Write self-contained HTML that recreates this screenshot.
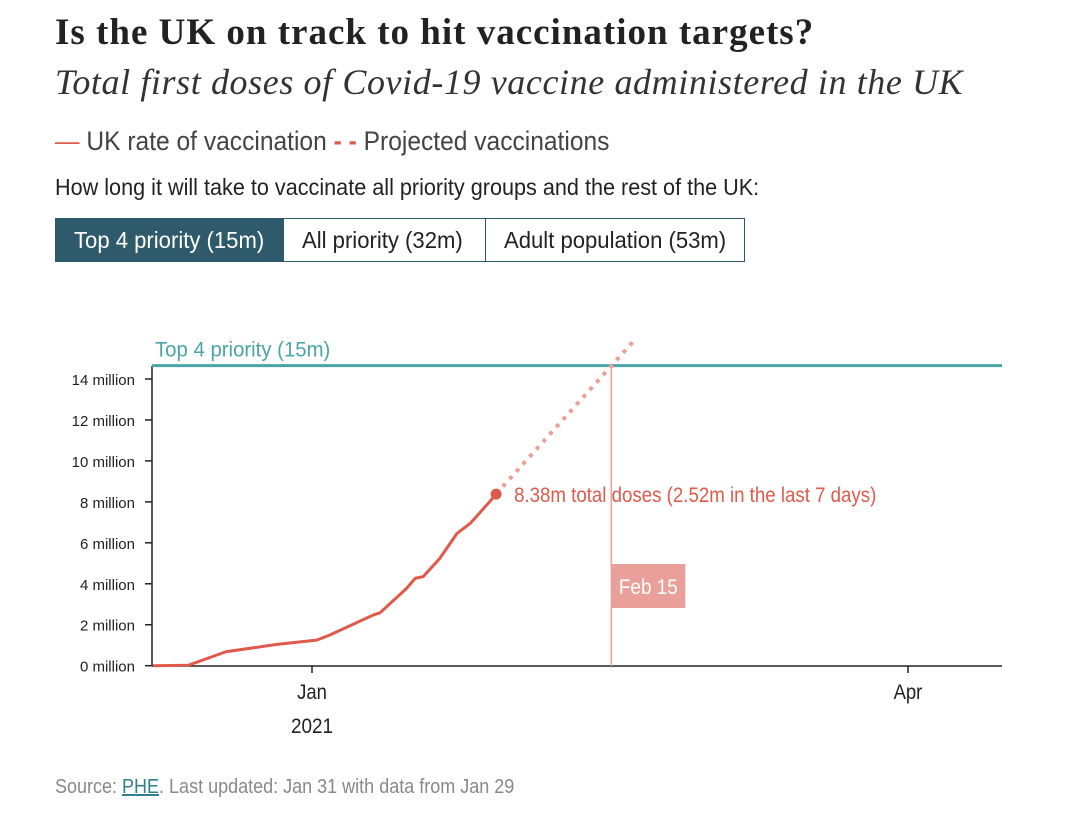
<!DOCTYPE html>
<html><head><meta charset="utf-8">
<style>
body{margin:0;width:1080px;height:828px;background:#fff;overflow:hidden;position:relative;font-family:"Liberation Sans",sans-serif;color:#222}
.abs{position:absolute;white-space:nowrap}
.cond{display:inline-block;transform-origin:0 0}
.btn{position:absolute;top:218px;height:44px;border:1.5px solid #2e5a6b;box-sizing:border-box;font-size:23px;line-height:42px;overflow:hidden}
</style></head><body>
<div class="abs" style="left:55px;top:11px;font-family:'Liberation Serif',serif;font-weight:bold;font-size:37px;letter-spacing:1px;color:#222">Is the UK on track to hit vaccination targets?</div>
<div class="abs" style="left:55px;top:61px;font-family:'Liberation Serif',serif;font-style:italic;font-size:36px;letter-spacing:0.6px;color:#333">Total first doses of Covid-19 vaccine administered in the UK</div>
<div class="abs" style="left:55px;top:126px;font-size:27px;color:#444"><span class="cond" style="transform:scaleX(0.91)"><span><span style="color:#e05a4b">—</span> UK rate of vaccination</span> <span><span style="color:#e05a4b;font-weight:bold">- -</span> Projected vaccinations</span></span></div>
<div class="abs" style="left:55px;top:174px;font-size:23px;color:#222"><span class="cond" style="transform:scaleX(0.94)">How long it will take to vaccinate all priority groups and the rest of the UK:</span></div>
<div class="btn" style="left:55px;width:229px;background:#2e5a6b;color:#fff;padding-left:18px"><span class="cond" style="transform:scaleX(0.96)">Top 4 priority (15m)</span></div>
<div class="btn" style="left:283px;width:203px;background:#fff;color:#222;padding-left:18px"><span class="cond" style="transform:scaleX(0.96)">All priority (32m)</span></div>
<div class="btn" style="left:485px;width:260px;background:#fff;color:#222;padding-left:18px"><span class="cond" style="transform:scaleX(0.96)">Adult population (53m)</span></div>
<svg id="chart" width="1080" height="828" style="position:absolute;left:0;top:0"></svg>
<div class="abs" style="left:55px;top:776px;font-size:20px;color:#888"><span class="cond" style="transform:scaleX(0.9)">Source: <span style="color:#2f7f8f;text-decoration:underline">PHE</span>. Last updated: Jan 31 with data from Jan 29</span></div>
<script>
// days relative to Jan 1 2021, values in millions
const days=[-24,-18.7,-13,-5.3,0.7,2.7,9.3,10.3,14.3,15.6,16.8,19.3,21.9,23.9,26.4,27.8];
const doses=[0,0.02,0.68,1.04,1.25,1.5,2.48,2.59,3.78,4.27,4.35,5.24,6.46,6.95,7.85,8.38];
const projDays=[27.8,48.7];
const projVals=[8.38,15.9];
const yTicks=[0,2,4,6,8,10,12,14];
const xTickDays=[0,90];
const xTickLabels=["Jan","Apr"];
const target=14.65, targetLabel="Top 4 priority (15m)";
const hitDay=45.2, hitLabel="Feb 15";
const lastLabel="8.38m total doses (2.52m in the last 7 days)";

const NS="http://www.w3.org/2000/svg",svg=document.getElementById('chart');
const x=d=>312+d*6.622, y=v=>665.7-v*20.48;
function el(t,a,txt){const e=document.createElementNS(NS,t);for(const k in a)e.setAttribute(k,a[k]);if(txt!=null)e.textContent=txt;svg.appendChild(e);return e;}
function sx(px,s){return `translate(${px},0) scale(${s},1) translate(${-px},0)`;}
let e;
e=el('line',{x1:152,x2:152,y1:366,y2:666,stroke:'#222','stroke-width':1.5});

e=el('line',{x1:152,x2:1002,y1:666,y2:666,stroke:'#222','stroke-width':1.5});

yTicks.forEach(v=>{
 e=el('line',{x1:145,x2:152,y1:y(v),y2:y(v),stroke:'#222','stroke-width':1.5});
 
 e=el('text',{x:135,y:y(v)+6,'text-anchor':'end','font-size':15,fill:'#222','font-family':'Liberation Sans'},v+' million');
 
});
xTickDays.forEach((d,i)=>{
 e=el('line',{x1:x(d),x2:x(d),y1:666,y2:673,stroke:'#222','stroke-width':1.5});
 
 e=el('text',{x:x(d),y:699,'text-anchor':'middle','font-size':21,fill:'#222',transform:sx(x(d),0.88)},xTickLabels[i]);
 
});
e=el('text',{x:x(0),y:733,'text-anchor':'middle','font-size':21,fill:'#222',transform:sx(x(0),0.9)},'2021');

e=el('line',{x1:152,x2:1002,y1:y(target),y2:y(target),stroke:'#4aa5a8','stroke-width':3});

e=el('text',{x:155,y:y(target)-9,'font-size':21,fill:'#4aa5a8',transform:sx(155,0.97)},targetLabel);

e=el('line',{x1:x(hitDay),x2:x(hitDay),y1:y(target),y2:666,stroke:'#eaa09a','stroke-width':1.5});

e=el('rect',{x:x(hitDay),y:564,width:74,height:44,fill:'#eaa09a'});

e=el('text',{x:x(hitDay)+37,y:594,'text-anchor':'middle','font-size':21,fill:'#fff',transform:sx(x(hitDay)+37,0.9)},hitLabel);

e=el('polyline',{points:projDays.map((d,i)=>x(d)+','+y(projVals[i])).join(' '),fill:'none',stroke:'#eaa09a','stroke-width':4,'stroke-dasharray':'4 6'});

e=el('polyline',{points:days.map((d,i)=>x(d)+','+y(doses[i])).join(' '),fill:'none',stroke:'#e05a4b','stroke-width':3,'stroke-linejoin':'round'});

const n=days.length-1;
e=el('circle',{cx:x(days[n]),cy:y(doses[n]),r:5.5,fill:'#e05a4b'});

const lx=x(days[n])+18;
e=el('text',{x:lx,y:y(doses[n])+8,'font-size':21,fill:'#e05a4b',transform:sx(lx,0.89)},lastLabel);

</script>
</body></html>
